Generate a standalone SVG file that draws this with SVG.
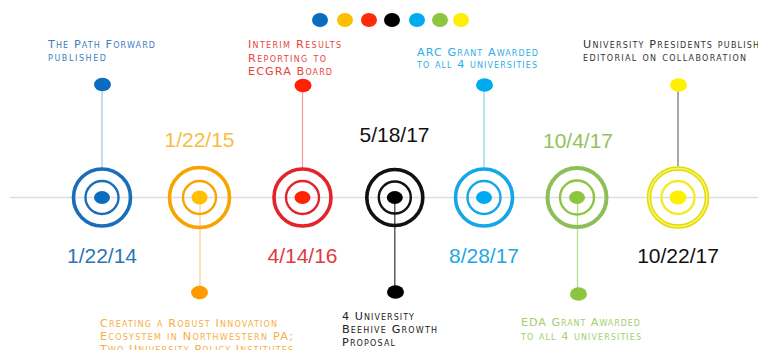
<svg xmlns="http://www.w3.org/2000/svg" width="758" height="350" viewBox="0 0 758 350">
<style>
.lbl{font-family:"DejaVu Sans","Liberation Sans",sans-serif;font-size:11.2px;font-variant:small-caps;}
.date{font-family:"Liberation Sans",Arial,sans-serif;font-size:21px;text-anchor:middle;}
.outer{fill:none;stroke-width:3.6;}
.inner{fill:none;stroke-width:2.4;}
.stem{stroke-width:1.3;fill:none;}
</style>
<rect width="758" height="350" fill="#fff"/>
<line x1="10" y1="197.5" x2="758" y2="197.5" stroke="#d9dee4" stroke-width="1.3"/>

<g id="legend">
<ellipse cx="320" cy="20" rx="8" ry="7" fill="#0a6cc0"/>
<ellipse cx="345" cy="20" rx="8" ry="7" fill="#ffbf00"/>
<ellipse cx="369" cy="20" rx="8" ry="7" fill="#ff2a0a"/>
<ellipse cx="392" cy="20" rx="8" ry="7" fill="#000"/>
<ellipse cx="417" cy="20" rx="8" ry="7" fill="#00aaee"/>
<ellipse cx="440" cy="20" rx="8" ry="7" fill="#8cc63f"/>
<ellipse cx="461" cy="20" rx="8" ry="7" fill="#ffee00"/>
</g>

<g id="connectors">
<line class="stem" x1="102" y1="90" x2="102" y2="168" stroke="#a9c8e4"/>
<line class="stem" x1="302.5" y1="91" x2="302.5" y2="168" stroke="#f0a3a0"/>
<line class="stem" x1="484" y1="90" x2="484" y2="167" stroke="#90d4f0"/>
<line class="stem" x1="678" y1="90" x2="678" y2="166" stroke="#7a7a7a"/>
<line class="stem" x1="200" y1="197" x2="200" y2="288" stroke="#f9cf9a"/>
<line class="stem" x1="394.8" y1="197" x2="394.8" y2="288" stroke="#444"/>
<line class="stem" x1="577.5" y1="197" x2="577.5" y2="289" stroke="#b6dc90"/>
</g>

<g id="n-2014-01-22">
<circle class="outer" cx="102" cy="197.5" r="28.5" stroke="#1a6db8"/>
<circle class="inner" cx="102" cy="197.5" r="16.5" stroke="#1a6db8"/>
<ellipse cx="102" cy="197.5" rx="8" ry="6.5" fill="#0a6cc0"/>
<ellipse cx="102.5" cy="84.5" rx="8.5" ry="6.8" fill="#0a6cc0"/>
<text class="date" x="102" y="263" fill="#2e74b5">1/22/14</text>
<text class="lbl" fill="#3d80c0"><tspan x="48" y="47.5" textLength="107" lengthAdjust="spacing">The Path Forward</tspan><tspan x="48" y="61" textLength="58" lengthAdjust="spacing">published</tspan></text>
</g>

<g id="n-2015-01-22">
<circle class="outer" cx="199.5" cy="197.5" r="30" stroke="#f7a300"/>
<circle class="inner" cx="199.5" cy="197.5" r="16.5" stroke="#f7a300"/>
<ellipse cx="199.5" cy="197.5" rx="8" ry="7" fill="#ffc000"/>
<ellipse cx="199.5" cy="292.5" rx="8.5" ry="6.8" fill="#ff9a00"/>
<text class="date" x="199.5" y="147" fill="#f6bd45">1/22/15</text>
<text class="lbl" fill="#f7ae45"><tspan x="100" y="326.7" textLength="177" lengthAdjust="spacing">Creating a Robust Innovation</tspan><tspan x="100" y="339.5" textLength="193" lengthAdjust="spacing">Ecosystem in Northwestern PA;</tspan><tspan x="100" y="352.5" textLength="193" lengthAdjust="spacing">Two University Policy Institutes</tspan></text>
</g>

<g id="n-2016-04-14">
<circle class="outer" cx="302.5" cy="197.5" r="28.5" stroke="#e3252b"/>
<circle class="inner" cx="302.5" cy="197.5" r="16.5" stroke="#e3252b"/>
<ellipse cx="302.5" cy="197.5" rx="8" ry="6.5" fill="#ff2200"/>
<ellipse cx="303" cy="85.5" rx="8.5" ry="6.8" fill="#ff2200"/>
<text class="date" x="302.5" y="263" fill="#e13a3c">4/14/16</text>
<text class="lbl" fill="#e8453c"><tspan x="248" y="47.5" textLength="93" lengthAdjust="spacing">Interim Results</tspan><tspan x="248" y="61.5" textLength="78" lengthAdjust="spacing">Reporting to</tspan><tspan x="248" y="75" textLength="84" lengthAdjust="spacing">ECGRA Board</tspan></text>
</g>

<g id="n-2017-05-18">
<circle class="outer" cx="394.8" cy="197.5" r="28" stroke="#111"/>
<circle class="inner" cx="394.8" cy="197.5" r="16" stroke="#111"/>
<ellipse cx="394.8" cy="197.5" rx="8" ry="6.5" fill="#000"/>
<ellipse cx="395.5" cy="292" rx="8.5" ry="6.8" fill="#000"/>
<text class="date" x="394.5" y="142" fill="#111">5/18/17</text>
<text class="lbl" fill="#222"><tspan x="342" y="320" textLength="72" lengthAdjust="spacing">4 University</tspan><tspan x="342" y="333" textLength="95" lengthAdjust="spacing">Beehive Growth</tspan><tspan x="342" y="346" textLength="53" lengthAdjust="spacing">Proposal</tspan></text>
</g>

<g id="n-2017-08-28">
<circle class="outer" cx="484" cy="197.5" r="28.5" stroke="#14a6e6"/>
<circle class="inner" cx="484" cy="197.5" r="16.5" stroke="#14a6e6"/>
<ellipse cx="484" cy="197.5" rx="8" ry="6.5" fill="#00aaee"/>
<ellipse cx="484.5" cy="85" rx="8.5" ry="6.8" fill="#00aaee"/>
<text class="date" x="484" y="263" fill="#1ea7e1">8/28/17</text>
<text class="lbl" fill="#2eaee4"><tspan x="417" y="56" textLength="121" lengthAdjust="spacing">ARC Grant Awarded</tspan><tspan x="417" y="68.3" textLength="120" lengthAdjust="spacing">to all 4 universities</tspan></text>
</g>

<g id="n-2017-10-04">
<circle class="outer" cx="577" cy="197.5" r="29.5" stroke="#8cbf58" style="stroke-width:4"/>
<circle class="inner" cx="577" cy="197.5" r="17" stroke="#8cc63f"/>
<ellipse cx="577" cy="197.5" rx="8" ry="6.5" fill="#8cc63f"/>
<ellipse cx="578.5" cy="294" rx="8.5" ry="6.8" fill="#8cc63f"/>
<text class="date" x="578" y="148" fill="#93c25a">10/4/17</text>
<text class="lbl" fill="#a3cf6e"><tspan x="521" y="326" textLength="119" lengthAdjust="spacing">EDA Grant Awarded</tspan><tspan x="521" y="340" textLength="120" lengthAdjust="spacing">to all 4 universities</tspan></text>
</g>

<g id="n-2017-10-22">
<circle class="outer" cx="678" cy="197.5" r="29" stroke="#e4dc00" style="stroke-width:4.6"/>
<circle cx="678" cy="197.5" r="29" fill="none" stroke="#f8f37a" stroke-width="1.6"/>
<circle class="inner" cx="678" cy="197.5" r="16.5" stroke="#f3ea28"/>
<ellipse cx="678" cy="197.5" rx="8.5" ry="7" fill="#fff000"/>
<ellipse cx="678.5" cy="85" rx="8.5" ry="6.8" fill="#fff000"/>
<text class="date" x="678" y="263" fill="#111">10/22/17</text>
<text class="lbl" fill="#333"><tspan x="583" y="47.5" textLength="176" lengthAdjust="spacing">University Presidents publish</tspan><tspan x="583" y="61" textLength="163" lengthAdjust="spacing">editorial on collaboration</tspan></text>
</g>
</svg>
